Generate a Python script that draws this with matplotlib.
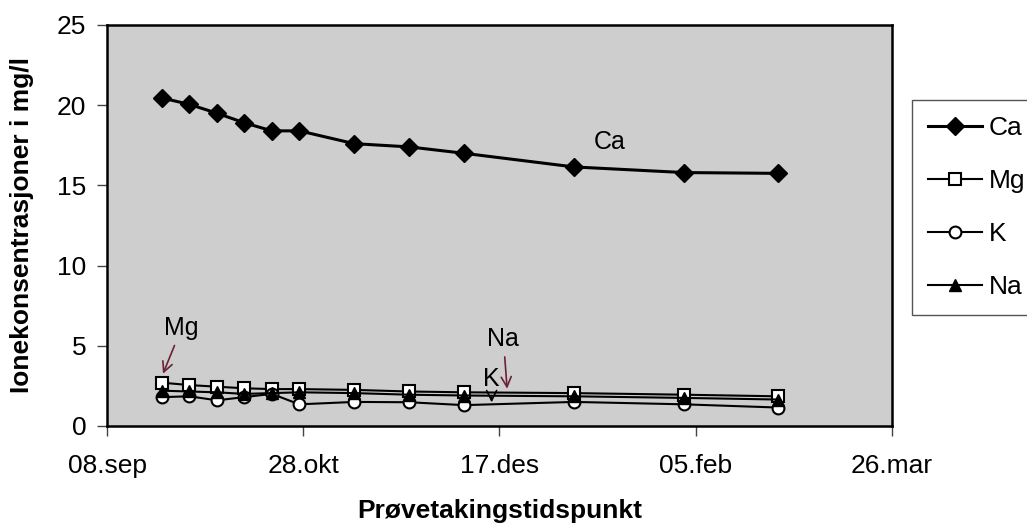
import pandas as pd
import matplotlib
matplotlib.use("Agg")
import matplotlib.pyplot as plt
import matplotlib.dates as mdates
from matplotlib.ticker import FuncFormatter

plt.rcParams['font.family'] = ['Liberation Sans', 'DejaVu Sans']

# sampling dates and ion concentrations (mg/l)
dates = ["1995-09-22", "1995-09-29", "1995-10-06", "1995-10-13", "1995-10-20", "1995-10-27",
         "1995-11-10", "1995-11-24", "1995-12-08", "1996-01-05", "1996-02-02", "1996-02-26"]
ca = [20.45, 20.05, 19.5, 18.9, 18.4, 18.4, 17.6, 17.4, 17.0, 16.15, 15.8, 15.75]
mg = [2.7, 2.55, 2.45, 2.35, 2.3, 2.3, 2.25, 2.15, 2.1, 2.05, 1.95, 1.85]
k = [1.8, 1.85, 1.6, 1.8, 2.0, 1.35, 1.5, 1.48, 1.3, 1.5, 1.35, 1.15]
na = [2.2, 2.15, 2.1, 2.0, 2.05, 2.1, 2.05, 1.95, 1.9, 1.85, 1.75, 1.65]

tick_dates = ["1995-09-08", "1995-10-28", "1995-12-17", "1996-02-05", "1996-03-26"]
months = ["jan", "feb", "mar", "apr", "mai", "jun", "jul", "aug", "sep", "okt", "nov", "des"]

x = pd.to_datetime(dates)
xt = pd.to_datetime(tick_dates)

fig = plt.figure(figsize=(10.27, 5.25), dpi=100)
ax = fig.add_axes([0.1042, 0.1886, 0.7643, 0.7638])
ax.set_facecolor('#cecece')

ax.plot(x, ca, color='black', lw=2.2, marker='D', ms=9.5, mfc='black', mec='black', label='Ca', zorder=5)
ax.plot(x, mg, color='black', lw=1.5, marker='s', ms=8.5, mfc='white', mec='black', mew=1.5, label='Mg', zorder=3)
ax.plot(x, k, color='black', lw=1.5, marker='o', ms=8.5, mfc='white', mec='black', mew=1.5, label='K', zorder=4)
ax.plot(x, na, color='black', lw=1.5, marker='^', ms=8, mfc='black', mec='black', label='Na', zorder=5)

ax.set_xlim(xt[0], xt[-1])
ax.set_ylim(0, 25)
ax.set_xticks(xt)
ax.set_yticks([0, 5, 10, 15, 20, 25])
ax.xaxis.set_major_formatter(FuncFormatter(
    lambda v, p: "%02d.%s" % (mdates.num2date(v).day, months[mdates.num2date(v).month - 1])))

ax.tick_params(axis='both', labelsize=19, length=7, width=1, color='#444444', direction='out')
ax.tick_params(axis='x', pad=13)
ax.tick_params(axis='y', pad=8)
for s in ax.spines.values():
    s.set_linewidth(1.8)
    s.set_color('black')

ax.set_ylabel("Ionekonsentrasjoner i mg/l", fontsize=19, fontweight='bold')
ax.yaxis.set_label_coords(-0.093, 0.5)
ax.set_xlabel("Prøvetakingstidspunkt", fontsize=19, fontweight='bold')
ax.xaxis.set_label_coords(0.5, -0.183)

# labels inside the plot
ax.text(pd.Timestamp("1996-01-14"), 17.7, "Ca", fontsize=18, ha='center', va='center')
arrow_red = dict(arrowstyle='->', color='#6b2234', lw=1.2)
ax.annotate("Mg", xy=(pd.Timestamp("1995-09-22"), 3.1), xytext=(pd.Timestamp("1995-09-27"), 6.1),
            fontsize=18, ha='center', va='center', arrowprops=arrow_red)
ax.annotate("Na", xy=(pd.Timestamp("1995-12-19"), 2.15), xytext=(pd.Timestamp("1995-12-18"), 5.4),
            fontsize=18, ha='center', va='center', arrowprops=arrow_red)
ax.annotate("K", xy=(pd.Timestamp("1995-12-15"), 1.3), xytext=(pd.Timestamp("1995-12-15"), 2.9),
            fontsize=18, ha='center', va='center',
            arrowprops=dict(arrowstyle='->', color='black', lw=1.2))

leg = fig.legend(loc='upper left', bbox_to_anchor=(0.888, 0.8095), fontsize=19,
                 frameon=True, fancybox=False, framealpha=1, edgecolor='#555555',
                 handlelength=2.05, handletextpad=0.27, labelspacing=1.1, borderpad=0.6,
                 borderaxespad=0)
leg.get_frame().set_linewidth(1.0)

fig.savefig("out.png", dpi=100)
